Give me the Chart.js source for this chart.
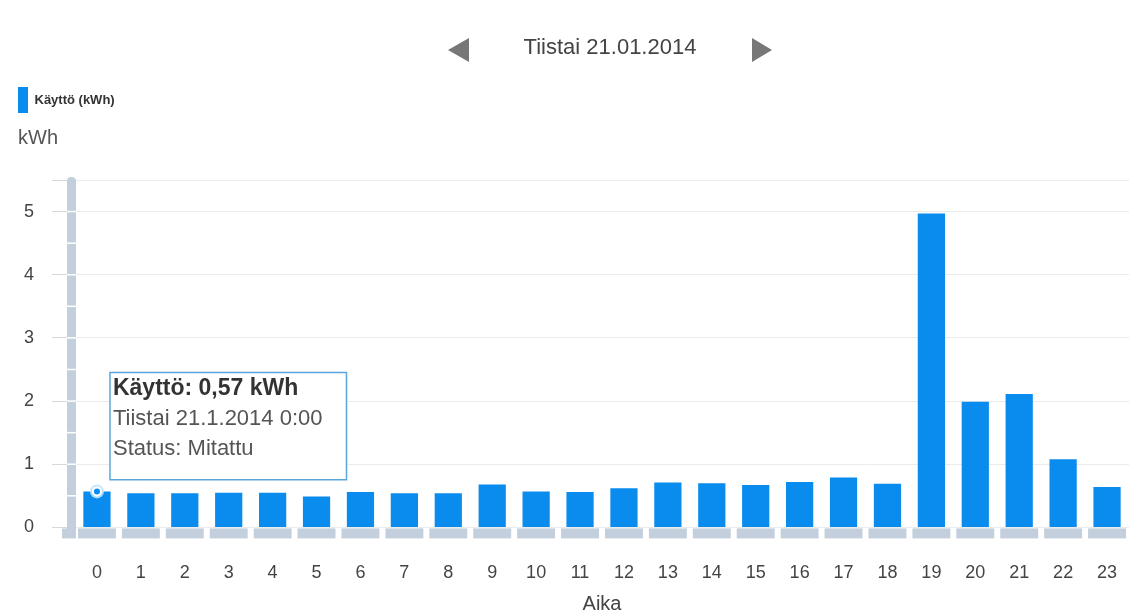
<!DOCTYPE html>
<html lang="fi">
<head>
<meta charset="utf-8">
<title>Käyttö</title>
<script src="https://cdn.jsdelivr.net/npm/chart.js@4.4.1/dist/chart.umd.min.js"></script>
<style>
  html, body { margin: 0; padding: 0; background: #fff; }
  #wrap { width: 1129px; height: 614px; position: relative; }
</style>
</head>
<body>
<div id="wrap"><canvas id="chart"></canvas></div>
<script>
var hours = ['0','1','2','3','4','5','6','7','8','9','10','11','12','13','14','15','16','17','18','19','20','21','22','23']
var kwh = [0.57, 0.54, 0.54, 0.55, 0.55, 0.49, 0.56, 0.54, 0.54, 0.68, 0.57, 0.56,
           0.62, 0.71, 0.70, 0.67, 0.72, 0.79, 0.69, 4.97, 1.99, 2.11, 1.08, 0.64]
var yTickLabels = ['0', '1', '2', '3', '4', '5']
var yMax = 5.5

var seriesName = 'Käyttö'
var unit = 'kWh'
var dayTitle = 'Tiistai 21.01.2014'
var tipDay = 'Tiistai 21.1.2014'
var tipStatus = 'Mitattu'
var xTitle = 'Aika'

var FONT = '"Liberation Sans", Arial, sans-serif'
var BLUE = '#098cee'
var AXISBAR = '#c3cfdc'

Chart.defaults.font.family = FONT

function fmt(v) {
  return v.toFixed(2).replace('.', ',')
}

// tooltip sits up and right of the hovered bar, like the original widget
Chart.Tooltip.positioners.besideBar = function(items) {
  if (!items.length) return false
  var el = items[0].element
  return { x: el.x + 13, y: el.y - 119 }
}

var decor = {
  id: 'decor',
  beforeDatasetsDraw: function(chart) {
    var ctx = chart.ctx, a = chart.chartArea
    var xs = chart.scales.x, ys = chart.scales.y
    ctx.save()

    // thick vertical axis bar
    ctx.fillStyle = AXISBAR
    ctx.beginPath()
    ctx.moveTo(a.left - 8, a.bottom + 10)
    ctx.lineTo(a.left - 8, a.top + 1)
    ctx.quadraticCurveTo(a.left - 8, a.top - 3, a.left - 3.5, a.top - 3)
    ctx.quadraticCurveTo(a.left + 1, a.top - 3, a.left + 1, a.top + 1)
    ctx.lineTo(a.left + 1, a.bottom + 10)
    ctx.closePath()
    ctx.fill()
    ctx.fillRect(a.left - 13, a.bottom + 1, 14, 10)

    ctx.fillStyle = '#ffffff'
    ys.ticks.forEach(function(t) {
      if (t.value <= 0 || t.value >= yMax) return
      var py = ys.getPixelForValue(t.value)
      ctx.fillRect(a.left - 8, py - 0.75, 9, 1.5)
    })

    // segmented strip under the bars
    var slot = xs.width / hours.length
    ctx.fillStyle = AXISBAR
    hours.forEach(function(h, i) {
      var cx = xs.getPixelForValue(i)
      ctx.fillRect(cx - slot / 2 + 3, a.bottom + 1, slot - 6, 10)
    })
    ctx.restore()
  },
  afterDatasetsDraw: function(chart) {
    var ctx = chart.ctx
    var el = chart.getDatasetMeta(0).data[0]
    ctx.save()
    ctx.beginPath()
    ctx.arc(el.x, el.y, 7, 0, Math.PI * 2)
    ctx.fillStyle = 'rgba(190,230,255,0.9)'
    ctx.fill()
    ctx.beginPath()
    ctx.arc(el.x, el.y, 5, 0, Math.PI * 2)
    ctx.fillStyle = '#ffffff'
    ctx.fill()
    ctx.beginPath()
    ctx.arc(el.x, el.y, 3, 0, Math.PI * 2)
    ctx.fillStyle = BLUE
    ctx.fill()
    ctx.restore()
  },
  afterDraw: function(chart) {
    var ctx = chart.ctx, a = chart.chartArea
    var cx = (a.left + a.right) / 2 + 8
    var cy = 48
    ctx.save()
    ctx.font = '22px ' + FONT
    ctx.fillStyle = '#444'
    ctx.textAlign = 'center'
    ctx.textBaseline = 'middle'
    ctx.fillText(dayTitle, cx, cy)

    // prev / next arrows
    ctx.fillStyle = '#777'
    ctx.beginPath()
    ctx.moveTo(cx - 162, cy + 2)
    ctx.lineTo(cx - 141, cy - 10)
    ctx.lineTo(cx - 141, cy + 14)
    ctx.closePath()
    ctx.fill()
    ctx.beginPath()
    ctx.moveTo(cx + 162, cy + 2)
    ctx.lineTo(cx + 142, cy - 10)
    ctx.lineTo(cx + 142, cy + 14)
    ctx.closePath()
    ctx.fill()
    ctx.restore()
  }
}

var ctx = document.getElementById('chart').getContext('2d')
var chart = new Chart(ctx, {
  type: 'bar',
  data: {
    labels: hours,
    datasets: [{
      label: seriesName + ' (' + unit + ')',
      data: kwh,
      backgroundColor: BLUE,
      borderWidth: 0,
      barPercentage: 0.62,
      categoryPercentage: 1
    }]
  },
  options: {
    responsive: true,
    maintainAspectRatio: false,
    animation: false,
    layout: { padding: { left: 18, right: 0, top: 87, bottom: 0 } },
    plugins: {
      legend: {
        position: 'top',
        align: 'start',
        labels: {
          boxWidth: 10,
          boxHeight: 26,
          padding: 0,
          color: '#333',
          font: { size: 13, weight: 'bold' }
        }
      },
      subtitle: {
        display: true,
        text: unit,
        align: 'start',
        weight: 500,
        color: '#555',
        font: { size: 20, weight: 'normal' },
        padding: { top: 3, bottom: 30 }
      },
      tooltip: {
        enabled: true,
        position: 'besideBar',
        xAlign: 'left',
        yAlign: 'top',
        caretSize: 0,
        caretPadding: 0,
        cornerRadius: 0,
        backgroundColor: 'rgba(255,255,255,0.96)',
        borderColor: '#5aa6dc',
        borderWidth: 1.5,
        titleColor: '#333',
        bodyColor: '#555',
        titleFont: { size: 23, weight: 'bold' },
        bodyFont: { size: 22 },
        titleMarginBottom: 4,
        bodySpacing: 3,
        padding: { top: 2, bottom: 18, left: 3, right: 24 },
        displayColors: false,
        animation: false,
        callbacks: {
          title: function(items) {
            return seriesName + ': ' + fmt(kwh[items[0].dataIndex]) + ' ' + unit
          },
          label: function(item) {
            return [tipDay + ' ' + hours[item.dataIndex] + ':00', 'Status: ' + tipStatus]
          }
        }
      }
    },
    scales: {
      x: {
        grid: { display: false, drawTicks: true, tickLength: 35 },
        border: { display: false },
        ticks: { color: '#444', font: { size: 18 }, padding: 0, maxRotation: 0 },
        title: {
          display: true,
          text: xTitle,
          color: '#444',
          font: { size: 20, lineHeight: 1 },
          padding: { top: 10, bottom: 0 }
        }
      },
      y: {
        min: 0,
        max: yMax,
        afterFit: function(scale) { scale.width = 57 },
        border: { display: false },
        grid: {
          tickLength: 23,
          color: function(c) {
            var v = c.tick.value
            return (v % 1 === 0 || v === yMax) ? '#ebebeb' : 'rgba(0,0,0,0)'
          },
          tickColor: function(c) {
            var v = c.tick.value
            return (v % 1 === 0 || v === yMax) ? '#d4d8dd' : 'rgba(0,0,0,0)'
          }
        },
        ticks: {
          stepSize: 0.5,
          padding: 18,
          color: '#444',
          font: { size: 18 },
          callback: function(v) {
            return v % 1 === 0 ? yTickLabels[v] : ''
          }
        }
      }
    }
  },
  plugins: [decor]
})

chart.tooltip.setActiveElements([{ datasetIndex: 0, index: 0 }], { x: 0, y: 0 })
chart.update()
</script>
</body>
</html>
